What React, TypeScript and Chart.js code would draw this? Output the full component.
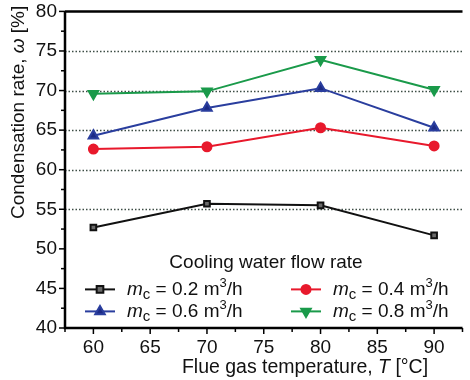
import React, { useEffect, useRef } from 'react';
import { Chart, registerables } from 'chart.js';
Chart.register(...registerables);

const temperatures = [60, 70, 80, 90];
const rate02 = [52.7, 55.7, 55.5, 51.7];
const rate04 = [62.6, 62.9, 65.3, 63.0];
const rate06 = [64.3, 67.8, 70.3, 65.3];
const rate08 = [69.6, 69.9, 73.9, 70.1];
const flowLabels = ['0.2', '0.4', '0.6', '0.8'];
const gridValues = [55, 60, 65, 70, 75];
const legendTitle = 'Cooling water flow rate';

const FONT = '"Liberation Sans", Arial, sans-serif';

type Run = { t: string; italic?: boolean; size: number; dy?: number };

function runsWidth(ctx: CanvasRenderingContext2D, runs: Run[]) {
  let w = 0;
  for (const r of runs) {
    ctx.font = `${r.italic ? 'italic ' : ''}${r.size}px ${FONT}`;
    w += ctx.measureText(r.t).width;
  }
  return w;
}

function drawRuns(ctx: CanvasRenderingContext2D, runs: Run[], x: number, y: number, align: 'left' | 'center') {
  let cx = align === 'center' ? x - runsWidth(ctx, runs) / 2 : x;
  ctx.textAlign = 'left';
  ctx.textBaseline = 'middle';
  for (const r of runs) {
    ctx.font = `${r.italic ? 'italic ' : ''}${r.size}px ${FONT}`;
    ctx.fillText(r.t, cx, y + (r.dy || 0));
    cx += ctx.measureText(r.t).width;
  }
}

const styles = [
  { color: '#111111', fill: '#6a6a6a', pointStyle: 'rect', radius: 4, rotation: 0 },
  { color: '#e8192c', fill: '#e8192c', pointStyle: 'circle', radius: 4.5, rotation: 0 },
  { color: '#2a3e9e', fill: '#1c2a85', pointStyle: 'triangle', radius: 5.5, rotation: 0 },
  { color: '#1a9a4a', fill: '#1a9a4a', pointStyle: 'triangle', radius: 5.5, rotation: 180 },
];

function drawMarker(ctx: CanvasRenderingContext2D, i: number, x: number, y: number) {
  const s = styles[i];
  ctx.save();
  ctx.fillStyle = s.fill;
  ctx.strokeStyle = s.color;
  ctx.lineWidth = 2;
  ctx.setLineDash([]);
  ctx.beginPath();
  const r = s.radius;
  if (s.pointStyle === 'rect') {
    const h = r * Math.SQRT1_2 + 0.5;
    ctx.rect(x - h, y - h, 2 * h, 2 * h);
  } else if (s.pointStyle === 'circle') {
    ctx.arc(x, y, r, 0, Math.PI * 2);
  } else {
    const dir = s.rotation === 180 ? -1 : 1;
    const side = (3 * r) / Math.sqrt(3);
    const height = (side * Math.sqrt(3)) / 2;
    ctx.moveTo(x, y - dir * (height * 2) / 3);
    ctx.lineTo(x - side / 2, y + dir * height / 3);
    ctx.lineTo(x + side / 2, y + dir * height / 3);
    ctx.closePath();
  }
  ctx.fill();
  ctx.stroke();
  ctx.restore();
}

const decorPlugin = {
  id: 'decor',
  beforeDatasetsDraw(chart: any) {
    const { ctx, chartArea: ca, scales } = chart;
    ctx.save();
    ctx.strokeStyle = '#3d4d45';
    ctx.lineWidth = 1.5;
    ctx.setLineDash([1.5, 2]);
    for (const v of gridValues) {
      const y = Math.round(scales.y.getPixelForValue(v)) + 0.5;
      ctx.beginPath();
      ctx.moveTo(ca.left, y);
      ctx.lineTo(ca.right, y);
      ctx.stroke();
    }
    ctx.restore();
  },
  afterDraw(chart: any) {
    const { ctx, chartArea: ca, scales } = chart;
    ctx.save();
    ctx.strokeStyle = '#000';
    ctx.fillStyle = '#000';
    ctx.lineWidth = 2.5;
    ctx.beginPath();
    ctx.moveTo(ca.left, ca.top);
    ctx.lineTo(ca.left, ca.bottom);
    ctx.lineTo(ca.right, ca.bottom);
    ctx.stroke();
    ctx.beginPath();
    ctx.moveTo(ca.left, ca.top);
    ctx.lineTo(ca.right, ca.top);
    ctx.stroke();
    ctx.lineWidth = 1.5;
    for (const t of scales.y.ticks) {
      const y = scales.y.getPixelForValue(t.value);
      const major = Math.abs(t.value % 5) < 1e-6;
      ctx.beginPath();
      ctx.moveTo(ca.left, y);
      ctx.lineTo(ca.left - (major ? 6 : 4), y);
      ctx.stroke();
    }
    for (const t of scales.x.ticks) {
      const x = scales.x.getPixelForValue(t.value);
      const major = Math.abs(t.value % 5) < 1e-6;
      ctx.beginPath();
      ctx.moveTo(x, ca.bottom);
      ctx.lineTo(x, ca.bottom + (major ? 6 : 4));
      ctx.stroke();
    }
    ctx.fillStyle = '#111';
    drawRuns(ctx, [
      { t: 'Flue gas temperature, ', size: 19.5 },
      { t: 'T', size: 19.5, italic: true },
      { t: ' [°C]', size: 19.5 },
    ], ca.left + 240, ca.bottom + 40, 'center');
    ctx.save();
    ctx.translate(19, ca.top + 101);
    ctx.rotate(-Math.PI / 2);
    drawRuns(ctx, [
      { t: 'Condensation rate, ', size: 19 },
      { t: 'ω', size: 19, italic: true },
      { t: ' [%]', size: 19 },
    ], 0, 0, 'center');
    ctx.restore();
    drawRuns(ctx, [{ t: legendTitle, size: 19 }], ca.left + 201, ca.top + 251, 'center');
    const positions = [
      { x: ca.left + 35, y: ca.top + 278 },
      { x: ca.left + 241, y: ca.top + 278 },
      { x: ca.left + 35, y: ca.top + 300 },
      { x: ca.left + 241, y: ca.top + 300 },
    ];
    [0, 1, 2, 3].forEach((i, k) => {
      const p = positions[k];
      const s = styles[i];
      ctx.strokeStyle = s.color;
      ctx.lineWidth = 2;
      ctx.setLineDash([]);
      ctx.beginPath();
      ctx.moveTo(p.x - 15, p.y);
      ctx.lineTo(p.x + 15, p.y);
      ctx.stroke();
      drawMarker(ctx, i, p.x, p.y);
      ctx.fillStyle = '#111';
      drawRuns(ctx, [
        { t: 'm', size: 19, italic: true },
        { t: 'c', size: 15, dy: 5 },
        { t: ` = ${flowLabels[i]} m`, size: 19 },
        { t: '3', size: 13, dy: -6 },
        { t: '/h', size: 19 },
      ], p.x + 27, p.y, 'left');
    });
    ctx.restore();
  },
};

export default function App() {
  const ref = useRef<HTMLCanvasElement>(null);
  useEffect(() => {
    document.body.style.margin = '0';
    const series = [rate02, rate04, rate06, rate08];
    const chart = new Chart(ref.current!, {
      type: 'line',
      data: {
        datasets: series.map((vals, i) => ({
          label: flowLabels[i],
          data: temperatures.map((t, j) => ({ x: t, y: vals[j] })),
          borderColor: styles[i].color,
          backgroundColor: styles[i].fill,
          pointBackgroundColor: styles[i].fill,
          pointBorderColor: styles[i].color,
          pointBorderWidth: 2,
          pointStyle: styles[i].pointStyle as any,
          pointRadius: styles[i].radius,
          pointRotation: styles[i].rotation,
          borderWidth: 2,
          tension: 0,
        })),
      },
      options: {
        animation: false,
        responsive: false,
        maintainAspectRatio: false,
        layout: { padding: { top: 11, right: 0, left: 0, bottom: 0 } },
        plugins: { legend: { display: false }, tooltip: { enabled: false } },
        scales: {
          x: {
            type: 'linear',
            min: 57.5,
            max: 92.5,
            grid: { display: false },
            border: { display: false },
            afterFit: (s: any) => { s.height = 52; s.paddingLeft = 0; s.paddingRight = 0; },
            ticks: {
              stepSize: 2.5,
              autoSkip: false,
              maxRotation: 0,
              padding: 0,
              color: '#111',
              font: { family: FONT, size: 19 },
              callback: (v: any) => (Math.abs(v % 5) < 1e-6 && v >= 60 && v <= 90 ? String(v) : ''),
            },
          },
          y: {
            min: 40,
            max: 80,
            grid: { display: false },
            border: { display: false },
            afterFit: (s: any) => { s.width = 65; },
            ticks: {
              stepSize: 2.5,
              autoSkip: false,
              padding: 0,
              color: '#111',
              font: { family: FONT, size: 19 },
              callback: (v: any) => (Math.abs(v % 5) < 1e-6 ? String(v) : ''),
            },
          },
        },
      },
      plugins: [decorPlugin],
    });
    return () => chart.destroy();
  }, []);
  return <canvas ref={ref} width={470} height={380} style={{ display: 'block' }} />;
}
